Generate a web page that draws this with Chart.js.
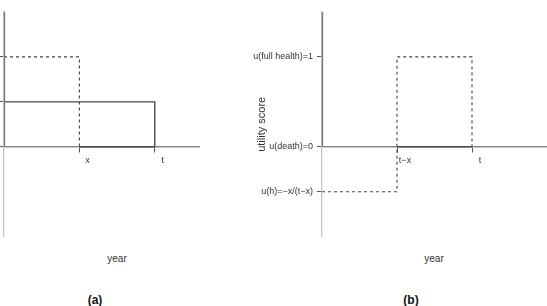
<!DOCTYPE html>
<html>
<head>
<meta charset="utf-8">
<script src="https://cdn.jsdelivr.net/npm/chart.js@4"></script>
<style>
  body { margin: 0; background: #fff; font-family: "Liberation Sans", Arial, sans-serif; }
  #wrap { position: relative; width: 547px; height: 306px; overflow: hidden; }
  canvas { position: absolute; top: 0; }
  .lbl { position: absolute; transform: translate(-50%, -50%); color: #333; white-space: nowrap; }
</style>
</head>
<body>
<div id="wrap">
  <canvas id="chartA" width="200" height="246" style="left:0"></canvas>
  <canvas id="chartB" width="296" height="246" style="left:251px"></canvas>
  <div class="lbl" style="left:117px;top:258px;font-size:10px">year</div>
  <div class="lbl" style="left:434px;top:258px;font-size:10px">year</div>
  <div class="lbl" style="left:95px;top:300px;font-size:12px;font-weight:bold;color:#111">(a)</div>
  <div class="lbl" style="left:411px;top:300px;font-size:12px;font-weight:bold;color:#111">(b)</div>
</div>
<script>
// panel (a): x = t/2, h = 0.5
const xTickValsA = [0.5, 1];
const xTickLabelsA = ["x", "t"];
const yTickValsA = [0, 0.5, 1];
const yTickLabelsA = ["", "", ""];
const dashedAX = [0, 0.5, 0.5, 1];
const dashedAY = [1, 1, 0, 0];
const solidAX = [0, 1, 1, 0.5];
const solidAY = [0.5, 0.5, 0, 0];

// panel (b)
const xTickValsB = [0.5, 1];
const xTickLabelsB = ["t\u2212x", "t"];
const yTickValsB = [-0.5, 0, 1];
const yTickLabelsB = ["u(h)=\u2212x/(t\u2212x)", "u(death)=0", "u(full health)=1"];
const dashedBX = [0, 0.5, 0.5, 1, 1];
const dashedBY = [-0.5, -0.5, 1, 1, 0];
const solidBX = [0.5, 1];
const solidBY = [0, 0];

const FONT = "'Liberation Sans', Arial, sans-serif";

function pts(xs, ys) {
  return xs.map((x, i) => ({ x: x, y: ys[i] }));
}

// y-axis above zero is darker than below
const darkUpperAxis = {
  id: "darkUpperAxis",
  afterDraw(chart) {
    const y = chart.scales.y;
    const ctx = chart.ctx;
    const px = Math.round(chart.chartArea.left) + 0.5;
    ctx.save();
    ctx.strokeStyle = "#777";
    ctx.lineWidth = 1.3;
    ctx.beginPath();
    ctx.moveTo(px, y.getPixelForValue(0));
    ctx.lineTo(px, chart.chartArea.top);
    ctx.stroke();
    ctx.restore();
  }
};

function makePanel(id, opts) {
  const ctx = document.getElementById(id).getContext("2d");
  return new Chart(ctx, {
    type: "line",
    data: {
      datasets: [
        {
          data: pts(opts.solidX, opts.solidY),
          borderColor: "#4a4a4a",
          borderWidth: 1.4,
          pointRadius: 0,
          tension: 0,
          fill: false,
          clip: false
        },
        {
          data: pts(opts.dashedX, opts.dashedY),
          borderColor: "#444",
          borderWidth: 1.1,
          borderDash: [3, 3],
          pointRadius: 0,
          tension: 0,
          fill: false,
          clip: false
        }
      ]
    },
    options: {
      responsive: false,
      animation: false,
      devicePixelRatio: 1,
      layout: { padding: { top: 12, bottom: 3, right: 0, left: 0 } },
      plugins: { legend: { display: false }, tooltip: { enabled: false } },
      scales: {
        x: {
          type: "linear",
          min: 0,
          max: opts.xMax,
          position: { y: 0 },
          afterBuildTicks: s => { s.ticks = opts.xVals.map(v => ({ value: v })); },
          ticks: {
            callback: (v, i) => opts.xLabels[i],
            font: { family: FONT, size: 9 },
            color: "#333",
            padding: 3,
            labelOffset: 8,
            maxRotation: 0
          },
          grid: { drawOnChartArea: false, drawTicks: true, tickLength: 5, color: "#555", lineWidth: 1 },
          border: { display: true, color: "#8a8a8a", width: 1.5 }
        },
        y: {
          type: "linear",
          min: -1,
          max: 1.5,
          afterBuildTicks: s => { s.ticks = opts.yVals.map(v => ({ value: v })); },
          afterFit: s => { s.width = opts.yWidth; },
          ticks: {
            callback: (v, i) => opts.yLabels[i],
            font: { family: FONT, size: 9 },
            color: "#333",
            padding: 4
          },
          title: {
            display: !!opts.yTitle,
            text: opts.yTitle || "",
            font: { family: FONT, size: 11 },
            color: "#333"
          },
          grid: { drawOnChartArea: false, drawTicks: true, tickLength: 5, color: "#555", lineWidth: 1 },
          border: { display: true, color: "#c4c4c4", width: 1.3 }
        }
      }
    },
    plugins: [darkUpperAxis]
  });
}

makePanel("chartA", {
  xMax: 1.3, yWidth: 4,
  xVals: xTickValsA, xLabels: xTickLabelsA,
  yVals: yTickValsA, yLabels: yTickLabelsA,
  dashedX: dashedAX, dashedY: dashedAY,
  solidX: solidAX, solidY: solidAY
});

makePanel("chartB", {
  xMax: 1.5, yWidth: 71, yTitle: "utility score",
  xVals: xTickValsB, xLabels: xTickLabelsB,
  yVals: yTickValsB, yLabels: yTickLabelsB,
  dashedX: dashedBX, dashedY: dashedBY,
  solidX: solidBX, solidY: solidBY
});
</script>
</body>
</html>
